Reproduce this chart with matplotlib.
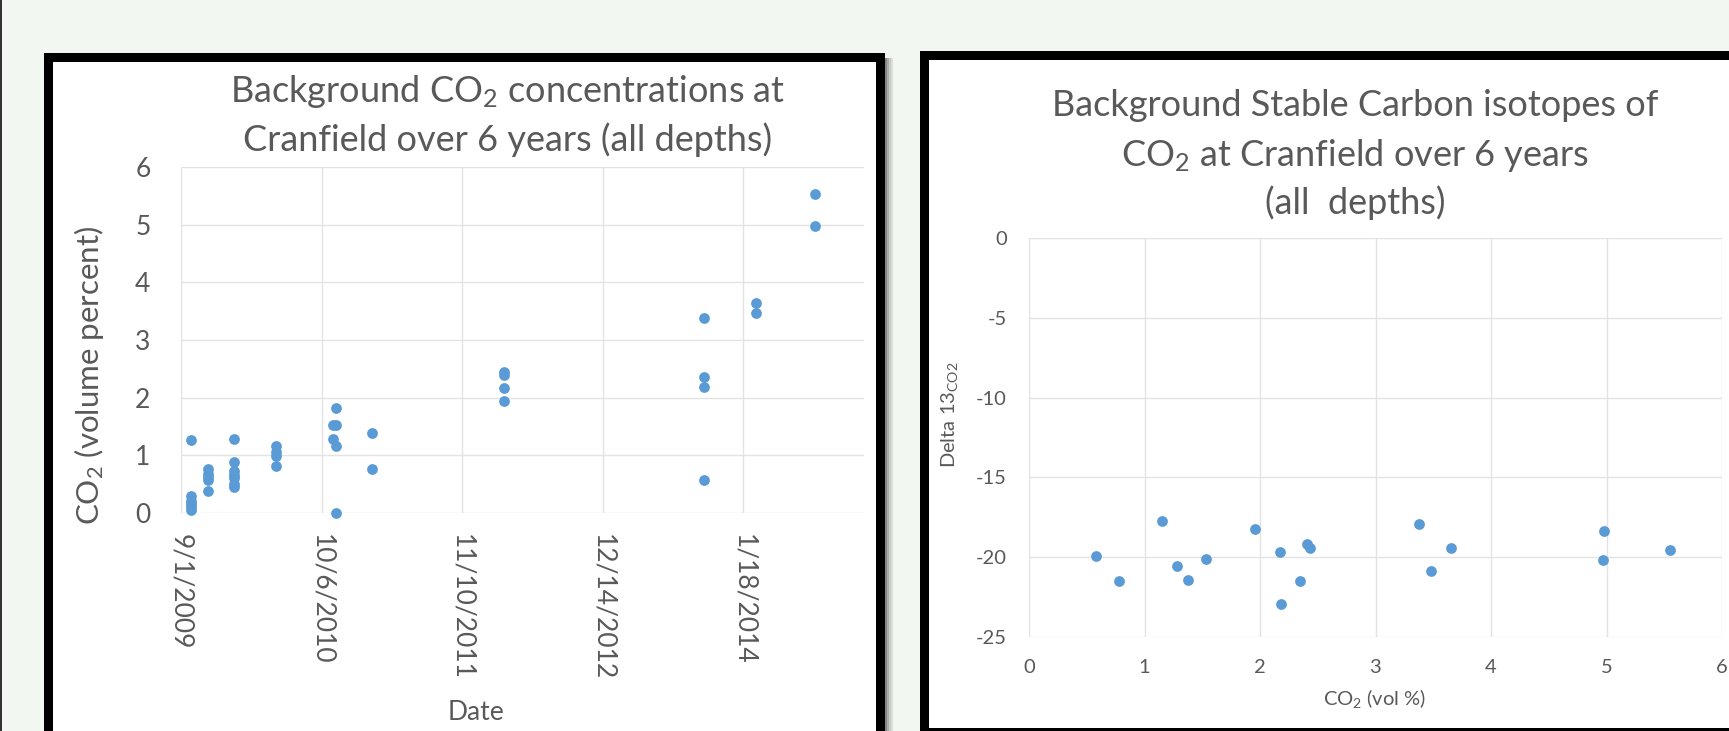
import matplotlib.pyplot as plt
import matplotlib.dates as mdates
from matplotlib.patches import Rectangle
import numpy as np

plt.rcParams['font.family'] = ['Lato', 'DejaVu Sans']
plt.rcParams['mathtext.fontset'] = 'custom'
plt.rcParams['mathtext.rm'] = 'Lato'
plt.rcParams['mathtext.it'] = 'Lato:italic'
plt.rcParams['axes.unicode_minus'] = False

# left chart: CO2 vs sampling date
co2_dates = ['2009-09-30'] * 6 + ['2009-11-18'] * 5 + ['2010-01-31'] * 7 + \
    ['2010-05-30'] * 4 + ['2010-11-08'] * 2 + ['2010-11-17'] * 4 + \
    ['2011-02-27'] * 2 + ['2012-03-08'] * 4 + ['2013-09-27'] * 4 + \
    ['2014-02-24'] * 2 + ['2014-08-10'] * 2
co2_values = [1.27, 0.29, 0.21, 0.15, 0.10, 0.05,
              0.77, 0.68, 0.62, 0.58, 0.39,
              1.28, 0.89, 0.73, 0.66, 0.60, 0.51, 0.45,
              1.16, 1.06, 0.98, 0.81,
              1.53, 1.29,
              1.82, 1.53, 1.16, 0.00,
              1.38, 0.77,
              2.44, 2.40, 2.16, 1.95,
              3.38, 2.35, 2.18, 0.58,
              3.65, 3.46,
              5.54, 4.98]
date_ticks = ['2009-09-01', '2010-10-06', '2011-11-10', '2012-12-14', '2014-01-18']
date_labels = ['9/1/2009', '10/6/2010', '11/10/2011', '12/14/2012', '1/18/2014']

# right chart: delta 13C vs CO2
iso_co2 = [0.58, 0.78, 1.15, 1.28, 1.38, 1.53, 1.96, 2.17, 2.18,
           2.35, 2.41, 2.43, 3.38, 3.48, 3.65, 4.98, 4.97, 5.55]
iso_delta = [-19.92, -21.52, -17.71, -20.54, -21.42, -20.13, -18.23, -19.65, -22.94,
             -21.5, -19.19, -19.42, -17.92, -20.88, -19.44, -18.38, -20.17, -19.54]

W, H = 1729, 731
bg = '#f3f7f1'
blue = '#5b9bd5'
grey = '#595959'
gridc = '#e3e3e3'

fig = plt.figure(figsize=(W / 100, H / 100), dpi=100, facecolor=bg)


def box(x0, y0, x1, y1, color):
    # pixel coords measured from top-left
    fig.patches.append(Rectangle((x0 / W, 1 - y1 / H), (x1 - x0) / W, (y1 - y0) / H,
                                 transform=fig.transFigure, color=color, lw=0, zorder=-5))


def txt(x, y, s, **kw):
    fig.text(x / W, 1 - y / H, s, color=grey, ha='center', va='center', **kw)


def axes_px(x0, y0, x1, y1):
    return fig.add_axes([x0 / W, 1 - y1 / H, (x1 - x0) / W, (y1 - y0) / H])


# slide frame
box(0, 0, 2, H, '#333333')
box(44, 53, 885, H + 5, 'black')
box(53, 62, 876, H + 5, 'white')
for i, a in enumerate([0.45, 0.3, 0.18, 0.1]):
    box(885 + 2 * i, 58, 887 + 2 * i, H, (0, 0, 0, a))
box(920, 51, W + 5, H + 5, 'black')
box(929, 60, W + 5, 728, 'white')

# left chart
ax1 = axes_px(181, 167, 864, 513)
ax1.set_facecolor('white')
xd = mdates.datestr2num(co2_dates)
ax1.scatter(xd, co2_values, s=60, color=blue, zorder=3, clip_on=False, linewidths=0)
t0 = mdates.datestr2num('2009-09-01')
ax1.set_xlim(t0, t0 + 1943)
ax1.set_ylim(0, 6)
ax1.set_xticks(mdates.datestr2num(date_ticks))
ax1.set_xticklabels(date_labels, rotation=-90, va='top', ha='center')
ax1.set_yticks(range(0, 7))
ax1.tick_params(axis='y', length=0, pad=22, labelsize=19, labelcolor=grey)
ax1.tick_params(axis='x', length=0, pad=15, labelsize=19, labelcolor=grey)
ax1.grid(True, color=gridc, lw=1)
ax1.set_axisbelow(True)
for sp in ax1.spines.values():
    sp.set_visible(False)

txt(508, 91, 'Background CO$_2$ concentrations at', fontsize=26)
txt(508, 140, 'Cranfield over 6 years (all depths)', fontsize=26)
txt(89, 375, 'CO$_2$ (volume percent)', fontsize=22.5, rotation=90)
txt(476, 713, 'Date', fontsize=19)

# right chart
ax2 = axes_px(1029, 238, 1722, 637)
ax2.set_facecolor('white')
ax2.scatter(iso_co2, iso_delta, s=60, color=blue, zorder=3, linewidths=0)
ax2.set_xlim(0, 6)
ax2.set_ylim(-25, 0)
ax2.set_xticks(range(0, 7))
ax2.set_yticks(range(-25, 1, 5))
ax2.tick_params(length=0, pad=16, labelsize=14.5, labelcolor=grey)
ax2.grid(True, color=gridc, lw=1)
ax2.set_axisbelow(True)
for sp in ax2.spines.values():
    sp.set_visible(False)

txt(1355, 105, 'Background Stable Carbon isotopes of', fontsize=26)
txt(1355, 156, 'CO$_2$ at Cranfield over 6 years', fontsize=26)
txt(1355, 203, '(all  depths)', fontsize=26)
txt(949, 415, 'Delta 13$_{\\mathrm{CO2}}$', fontsize=14.5, rotation=90)
txt(1375, 699, 'CO$_2$ (vol %)', fontsize=14.5)

fig.savefig('out.png', dpi=100, facecolor=bg)
